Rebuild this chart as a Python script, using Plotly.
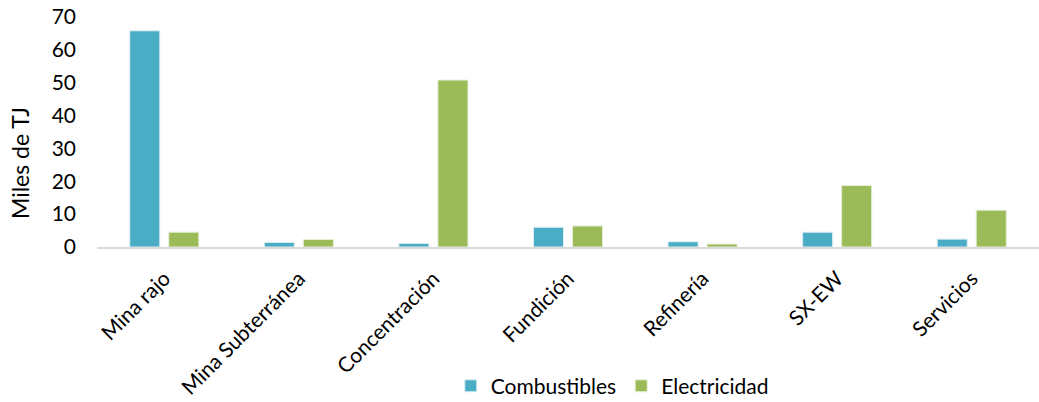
import plotly.graph_objects as go

categorias = ["Mina rajo", "Mina Subterránea", "Concentración", "Fundición", "Refinería", "SX-EW", "Servicios"]
combustibles = [65.8, 1.4, 1.1, 6.0, 1.6, 4.5, 2.4]
electricidad = [4.5, 2.3, 50.8, 6.4, 0.9, 18.7, 11.2]

FONT = "Lato, 'Open Sans', sans-serif"

fig = go.Figure()
fig.add_bar(x=categorias, y=combustibles, name="Combustibles",
            marker=dict(color="#4BACC6", line=dict(color="#DDEFF4", width=1)))
fig.add_bar(x=categorias, y=electricidad, name="Electricidad",
            marker=dict(color="#9BBB59", line=dict(color="#E5EED5", width=1)))

fig.update_layout(
    width=1039, height=402,
    margin=dict(l=97, r=0, t=17, b=155, autoexpand=False),
    plot_bgcolor="white", paper_bgcolor="white",
    barmode="group", bargap=0.42, bargroupgap=0.23,
    font=dict(family=FONT, size=21, color="#000000"),
    showlegend=True,
    legend=dict(orientation="h", x=0.547, xanchor="center", y=-0.605, yanchor="middle",
                font=dict(size=21), itemwidth=30, traceorder="normal"),
    xaxis=dict(tickangle=-45, showgrid=False, showline=True, linecolor="#D9D9D9",
               linewidth=2, ticks="", tickfont=dict(size=21), automargin=False,
               ticklabelstandoff=9),
    yaxis=dict(range=[0, 70], dtick=10, showgrid=False, zeroline=False, showline=False,
               ticks="", tickfont=dict(size=21), ticklabelstandoff=20, automargin=False),
    annotations=[dict(text="Miles de TJ", textangle=-90, xref="paper", yref="paper",
                      x=-0.0817, y=(247 - 163) / 230, xanchor="center", yanchor="middle",
                      showarrow=False, font=dict(size=23))],
)

fig.write_html("out.html")
